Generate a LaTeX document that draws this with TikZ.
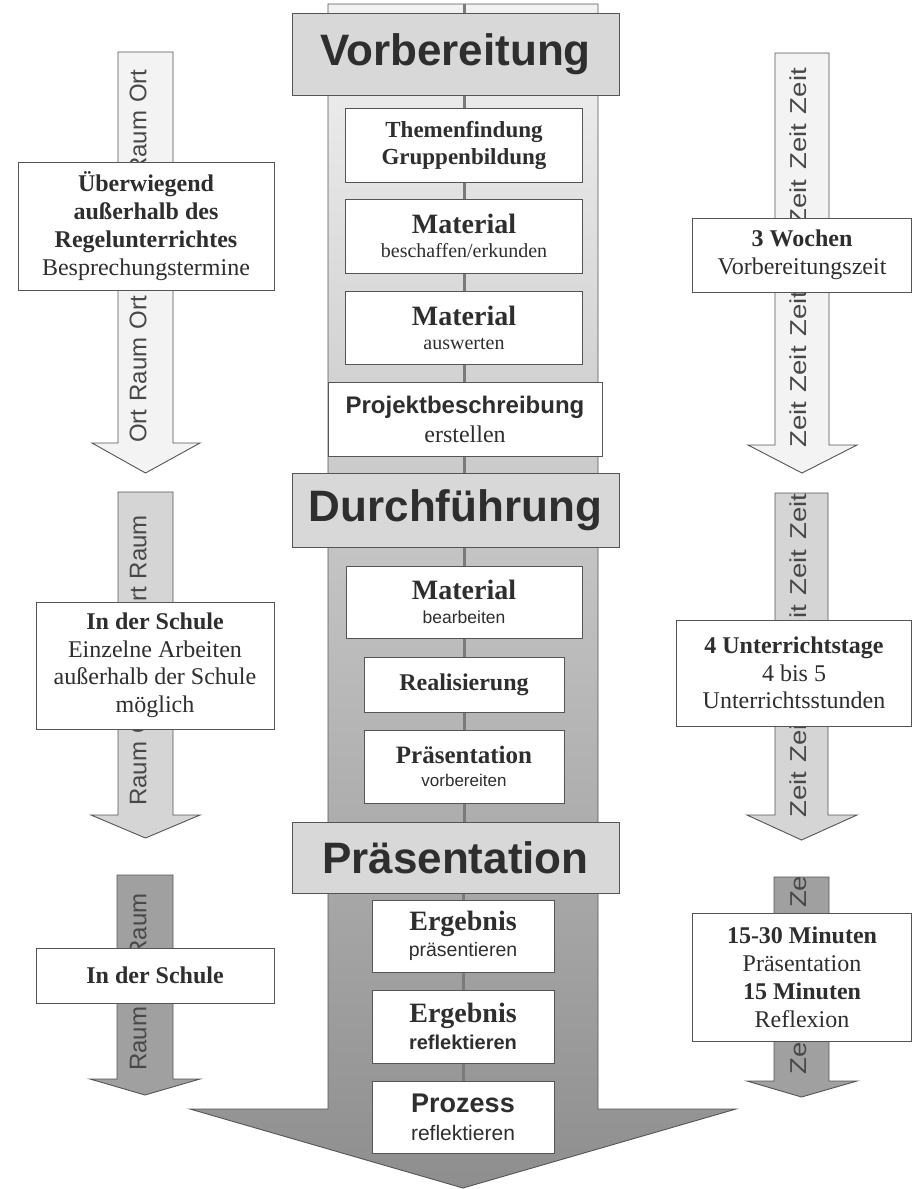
\documentclass[tikz,border=0pt]{standalone}
\usepackage{fontspec}
\usepackage{graphicx}
\setmainfont{Liberation Serif}
\newfontfamily\arial{Liberation Sans}
\definecolor{ln}{HTML}{555555}
\definecolor{tx}{HTML}{2E2E2E}
\definecolor{tx2}{HTML}{484848}
\definecolor{fillA}{HTML}{F3F3F3}
\definecolor{fillB}{HTML}{D5D5D5}
\definecolor{fillC}{HTML}{A0A0A0}
\definecolor{bandc}{HTML}{D8D8D8}
\definecolor{clc}{HTML}{7A7A7A}
\definecolor{shTop}{HTML}{F2F2F2}
\definecolor{shMid}{HTML}{D4D4D4}
\definecolor{shBot}{HTML}{8E8E8E}
\newcommand\fsz[2]{\fontsize{#1pt}{#2pt}\selectfont}
\newcommand\wsp{\hspace{8pt}}
\newcommand\zsp{\hspace{8pt}}
\newcommand\sarrow[9]{%
  \pgfmathsetmacro\ac{(#2+#3)/2}%
  \fill[#1] (#2,#4) -- (#3,#4) -- (#3,#5) -- (#7,#5) -- (\ac,#8) -- (#6,#5) -- (#2,#5) -- cycle;
  \begin{scope}
    \clip (#2,#4) -- (#3,#4) -- (#3,#5) -- (#7,#5) -- (\ac,#8) -- (#6,#5) -- (#2,#5) -- cycle;
    #9
  \end{scope}
  \draw[aline] (#2,#4) -- (#3,#4) -- (#3,#5) -- (#7,#5) -- (\ac,#8) -- (#6,#5) -- (#2,#5) -- cycle;
}
\begin{document}
\begin{tikzpicture}[x=1pt,y=-1pt,
  box/.style={draw=ln,line width=1pt,fill=white,text=tx,align=center,inner sep=0pt},
  band/.style={draw=ln,line width=1pt,fill=bandc,text=tx,inner sep=0pt,font=\arial\bfseries\fsz{44}{50}},
  aline/.style={draw=ln,line width=0.9pt,line join=miter},
  cline/.style={draw=clc,line width=3pt},
  vtl/.style={rotate=90,anchor=west,inner sep=0pt,text=tx2,font=\arial\fsz{24}{26}},
  vtr/.style={rotate=90,anchor=west,inner sep=0pt,text=tx2,font=\arial\fsz{23}{26}},
]
\useasboundingbox (0,0) rectangle (913,1189);
\fill[white] (0,0) rectangle (913,1189);

% main arrow
\path[aline, top color=shTop, middle color=shMid, bottom color=shBot]
  (328,4) -- (598,4) -- (598,1109) -- (736,1109) -- (463,1188) -- (190,1109) -- (328,1109) -- cycle;
\coordinate (top) at (464,4);

% side arrows
\sarrow{fillA}{118}{173}{52}{443}{92}{200}{473}{\node[vtl] (tl1) at (138,443) {Ort\wsp Raum\wsp Ort\wsp Raum\wsp Ort\wsp Raum\wsp Ort};}
\sarrow{fillB}{118}{173}{492}{815}{91}{200}{838}{\node[vtl] (tl2) at (138,806) {Raum\wsp Ort\wsp Raum\wsp Ort\wsp Raum};}
\sarrow{fillC}{117}{173}{875}{1079}{90}{200}{1095}{\node[vtl] (tl3) at (138,1071) {Raum\wsp Ort\wsp Raum};}
\sarrow{fillA}{775}{829}{53}{445}{748}{857}{473}{\node[vtr] (tr1) at (798,448) {\scalebox{1.2}[1]{Zeit\zsp Zeit\zsp Zeit\zsp Zeit\zsp Zeit\zsp Zeit\zsp Zeit}};}
\sarrow{fillB}{775}{828}{493}{815}{747}{857}{840}{\node[vtr] (tr2) at (798,818) {\scalebox{1.2}[1]{Zeit\zsp Zeit\zsp Zeit\zsp Zeit\zsp Zeit\zsp Zeit}};}
\sarrow{fillC}{774}{829}{877}{1081}{747}{857}{1097}{\node[vtr] (tr3) at (798,1075) {\scalebox{1.2}[1]{Zeit\zsp Zeit\zsp Zeit\zsp Zeit}};}

% side boxes
\node[box,minimum width=256pt,minimum height=128pt,font=\fsz{24}{28}] (lb1) at (146,226)
  {\textbf{Überwiegend}\\\textbf{außerhalb des}\\\textbf{Regelunterrichtes}\\Besprechungstermine};
\node[box,minimum width=238pt,minimum height=127pt,font=\fsz{24}{27.5}] (lb2) at (155,665.5)
  {\textbf{In der Schule}\\Einzelne Arbeiten\\außerhalb der Schule\\möglich};
\node[box,minimum width=238pt,minimum height=55pt,font=\fsz{24}{28}\bfseries] (lb3) at (155,975.5)
  {In der Schule};
\node[box,minimum width=219pt,minimum height=74pt,font=\fsz{24}{28}] (rb1) at (802,255)
  {\textbf{3 Wochen}\\Vorbereitungszeit};
\node[box,minimum width=235pt,minimum height=106pt,font=\fsz{24}{27.5}] (rb2) at (794,673)
  {\textbf{4 Unterrichtstage}\\4 bis 5\\Unterrichtsstunden};
\node[box,minimum width=219pt,minimum height=128pt,font=\fsz{24}{28}] (rb3) at (802,977)
  {\textbf{15-30 Minuten}\\Präsentation\\\textbf{15 Minuten}\\Reflexion};

% banners
\node[band,minimum width=327pt,minimum height=82pt] (vb) at (455.5,54) {Vorbereitung};
\node[band,minimum width=327pt,minimum height=74pt] (db) at (455.5,510) {Durchführung};
\node[band,minimum width=327pt,minimum height=71pt] (pb) at (455.5,857.5) {Präsentation};

% centre boxes
\node[box,minimum width=237pt,minimum height=74pt,font=\fsz{23}{27}\bfseries] (b1) at (464,145)
  {Themenfindung\\Gruppenbildung};
\node[box,minimum width=237pt,minimum height=74pt,font=\fsz{20}{24}] (b2) at (464,236)
  {{\fsz{28}{24}\bfseries Material}\\beschaffen/erkunden};
\node[box,minimum width=237pt,minimum height=73pt,font=\fsz{20}{24}] (b3) at (464,327.5)
  {{\fsz{28}{24}\bfseries Material}\\auswerten};
\node[box,minimum width=274pt,minimum height=74pt,font=\fsz{24}{29}] (b4) at (465,419)
  {{\arial\bfseries Projektbeschreibung}\\erstellen};
\node[box,minimum width=236pt,minimum height=72pt,font=\fsz{17.5}{24}] (b5) at (464,602)
  {{\fsz{28}{24}\bfseries Material}\\{\arial bearbeiten}};
\node[box,minimum width=200pt,minimum height=55pt,font=\fsz{24}{28}\bfseries] (b6) at (464,684.5)
  {Realisierung};
\node[box,minimum width=200pt,minimum height=73pt,font=\fsz{17}{23}] (b7) at (464,766.5)
  {{\fsz{25}{23}\bfseries Präsentation}\\{\arial vorbereiten}};
\node[box,minimum width=182pt,minimum height=72pt,font=\fsz{19.5}{26}] (b8) at (463,936)
  {{\fsz{28}{26}\bfseries Ergebnis}\\{\arial präsentieren}};
\node[box,minimum width=182pt,minimum height=73pt,font=\fsz{20}{27}] (b9) at (463,1026.5)
  {{\fsz{28}{27}\bfseries Ergebnis}\\{\arial\bfseries reflektieren}};
\node[box,minimum width=182pt,minimum height=72pt,font=\fsz{21}{28}] (b10) at (463,1117)
  {{\arial\fsz{27}{28}\bfseries Prozess}\\{\arial reflektieren}};

% centre line
\draw[cline] (top) -- (top |- vb.north);
\draw[cline] (vb.south -| b1.north) -- (b1.north);
\draw[cline] (b1.south) -- (b2.north);
\draw[cline] (b2.south) -- (b3.north);
\draw[cline] (b3.south) -- (b3.south |- b4.north);
\draw[cline] (b3.south |- b4.south) -- (b3.south |- db.north);
\draw[cline] (db.south -| b5.north) -- (b5.north);
\draw[cline] (b5.south) -- (b6.north);
\draw[cline] (b6.south) -- (b7.north);
\draw[cline] (b7.south) -- (b7.south |- pb.north);
\draw[cline] (pb.south -| b8.north) -- (b8.north);
\draw[cline] (b8.south) -- (b9.north);
\draw[cline] (b9.south) -- (b10.north);
\end{tikzpicture}
\end{document}
